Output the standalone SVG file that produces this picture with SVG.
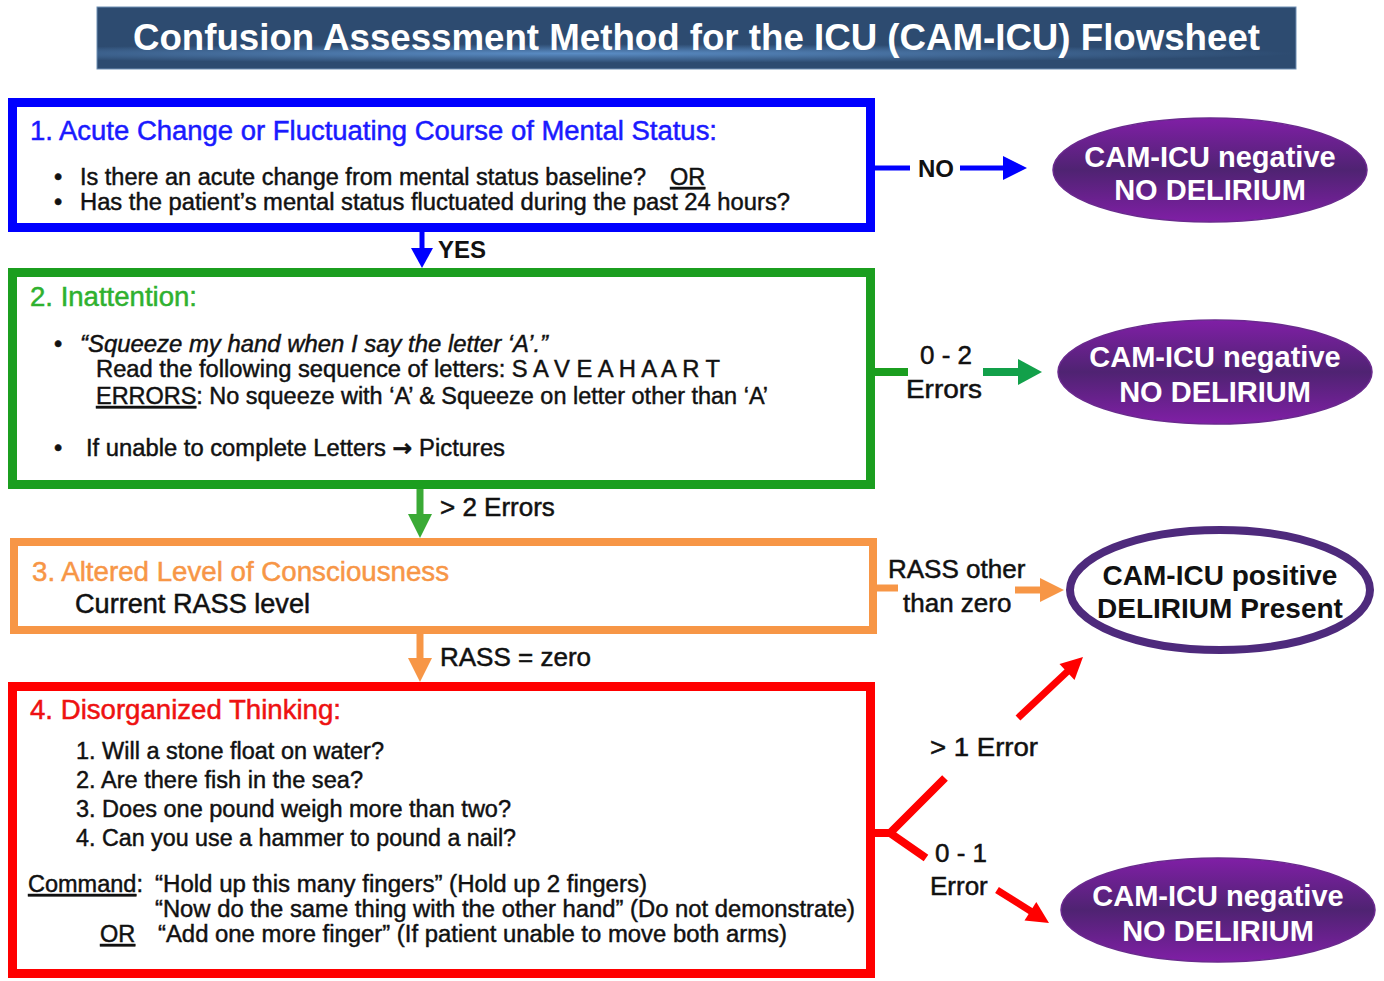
<svg xmlns="http://www.w3.org/2000/svg" width="1384" height="981" viewBox="0 0 1384 981">
<defs>
<radialGradient id="banner" cx="0.4" cy="0.75" r="0.6" gradientTransform="translate(0.4 0.75) scale(1 0.25) translate(-0.4 -0.75)">
<stop offset="0" stop-color="#5a8cc4"/>
<stop offset="1" stop-color="#2d4b70"/>
</radialGradient>
<linearGradient id="purple" x1="0" y1="0" x2="0" y2="1">
<stop offset="0" stop-color="#801fa6"/>
<stop offset="0.5" stop-color="#4f2372"/>
<stop offset="1" stop-color="#801fa6"/>
</linearGradient>
<style>
text{font-family:"Liberation Sans",Arial,sans-serif;}
.title{font-size:36px;font-weight:bold;fill:#fff;}
.head{font-size:27px;stroke-width:0.5px;}
.body{font-size:23.5px;fill:#111;stroke:#111;stroke-width:0.45px;}
.lbl{font-size:26px;fill:#111;stroke:#111;stroke-width:0.5px;}
.lblb{font-size:24px;font-weight:bold;fill:#111;}
.ell{font-size:29px;font-weight:bold;fill:#fff;text-anchor:middle;}
.ellk{font-size:28px;font-weight:bold;fill:#111;text-anchor:middle;}
.u{text-decoration:underline;}
.box{fill:#fff;}
.neg{fill:url(#purple);stroke:#6a2a8e;stroke-width:1.5;}
.arr{font-family:"DejaVu Sans",sans-serif;font-weight:bold;}
</style>
</defs>

<g id="title">
<rect x="97" y="7" width="1199" height="62" fill="url(#banner)" stroke="#6f8fb3" stroke-width="1"/>
<text class="title" x="133" y="50" textLength="1127" lengthAdjust="spacingAndGlyphs">Confusion Assessment Method for the ICU (CAM-ICU) Flowsheet</text>
</g>

<g id="box1">
<rect class="box" x="12.5" y="102.5" width="858" height="125" stroke="#0000ff" stroke-width="9"/>
<text class="head" x="30" y="140" fill="#1a1aff" stroke="#1a1aff" textLength="687" lengthAdjust="spacingAndGlyphs">1. Acute Change or Fluctuating Course of Mental Status:</text>
<text class="body" x="54" y="185">•</text>
<text class="body" x="80" y="185" textLength="566" lengthAdjust="spacingAndGlyphs">Is there an acute change from mental status baseline?</text>
<text class="body u" x="670" y="185">OR</text>
<text class="body" x="54" y="210">•</text>
<text class="body" x="80" y="210" textLength="710" lengthAdjust="spacingAndGlyphs">Has the patient’s mental status fluctuated during the past 24 hours?</text>
</g>

<g id="box2">
<rect class="box" x="12.5" y="272.5" width="858" height="212" stroke="#1b9e1f" stroke-width="9"/>
<text class="head" x="30" y="306" fill="#2fb12f" stroke="#2fb12f" textLength="167" lengthAdjust="spacingAndGlyphs">2. Inattention:</text>
<text class="body" x="54" y="352">•</text>
<text class="body" x="80" y="352" font-style="italic" textLength="468" lengthAdjust="spacingAndGlyphs">“Squeeze my hand when I say the letter ‘A’.”</text>
<text class="body" x="96" y="377" textLength="624" lengthAdjust="spacingAndGlyphs">Read the following sequence of letters: S A V E A H A A R T</text>
<text class="body" x="96" y="404" textLength="672" lengthAdjust="spacingAndGlyphs"><tspan class="u">ERRORS</tspan>: No squeeze with ‘A’ &amp; Squeeze on letter other than ‘A’</text>
<text class="body" x="54" y="456">•</text>
<text class="body" x="86" y="456" textLength="419" lengthAdjust="spacingAndGlyphs">If unable to complete Letters <tspan class="arr">→</tspan> Pictures</text>
</g>

<g id="box3">
<rect class="box" x="14" y="542" width="859" height="88" stroke="#f79646" stroke-width="8"/>
<text class="head" x="32" y="581" fill="#f79646" stroke="#f79646" textLength="417" lengthAdjust="spacingAndGlyphs">3. Altered Level of Consciousness</text>
<text class="head" x="75" y="613" fill="#111" stroke="#111" textLength="235" lengthAdjust="spacingAndGlyphs">Current RASS level</text>
</g>

<g id="box4">
<rect class="box" x="12.5" y="686.5" width="858" height="287" stroke="#ff0000" stroke-width="9"/>
<text class="head" x="30" y="719" fill="#ee1111" stroke="#ee1111" textLength="311" lengthAdjust="spacingAndGlyphs">4. Disorganized Thinking:</text>
<text class="body" x="76" y="759" textLength="308" lengthAdjust="spacingAndGlyphs">1. Will a stone float on water?</text>
<text class="body" x="76" y="788" textLength="287" lengthAdjust="spacingAndGlyphs">2. Are there fish in the sea?</text>
<text class="body" x="76" y="817" textLength="435" lengthAdjust="spacingAndGlyphs">3. Does one pound weigh more than two?</text>
<text class="body" x="76" y="846" textLength="440" lengthAdjust="spacingAndGlyphs">4. Can you use a hammer to pound a nail?</text>
<text class="body" x="28" y="892"><tspan class="u">Command</tspan>:</text>
<text class="body" x="155" y="892" textLength="492" lengthAdjust="spacingAndGlyphs">“Hold up this many fingers” (Hold up 2 fingers)</text>
<text class="body" x="155" y="917" textLength="700" lengthAdjust="spacingAndGlyphs">“Now do the same thing with the other hand” (Do not demonstrate)</text>
<text class="body u" x="100" y="942">OR</text>
<text class="body" x="158" y="942" textLength="629" lengthAdjust="spacingAndGlyphs">“Add one more finger” (If patient unable to move both arms)</text>
</g>

<g id="neg1">
<ellipse class="neg" cx="1210" cy="170" rx="157" ry="52"/>
<text class="ell" x="1210" y="167">CAM-ICU negative</text>
<text class="ell" x="1210" y="200">NO DELIRIUM</text>
</g>

<g id="neg2">
<ellipse class="neg" cx="1215" cy="372" rx="157" ry="52"/>
<text class="ell" x="1215" y="367">CAM-ICU negative</text>
<text class="ell" x="1215" y="402">NO DELIRIUM</text>
</g>

<g id="pos">
<ellipse cx="1220" cy="590" rx="150" ry="60" fill="#fff" stroke="#4e2a7c" stroke-width="8"/>
<text class="ellk" x="1220" y="585">CAM-ICU positive</text>
<text class="ellk" x="1220" y="618">DELIRIUM Present</text>
</g>

<g id="neg3">
<ellipse class="neg" cx="1218" cy="910" rx="157" ry="52"/>
<text class="ell" x="1218" y="906">CAM-ICU negative</text>
<text class="ell" x="1218" y="941">NO DELIRIUM</text>
</g>

<g id="connectors" fill="none" stroke-linecap="butt">
<line x1="422" y1="232" x2="422" y2="250" stroke="#0000ff" stroke-width="5"/>
<polygon points="411,248 433,248 422,268" fill="#0000ff"/>
<text class="lblb" x="438" y="258">YES</text>
<line x1="875" y1="168" x2="910" y2="168" stroke="#0000ff" stroke-width="5"/>
<line x1="960" y1="168" x2="1005" y2="168" stroke="#0000ff" stroke-width="5"/>
<polygon points="1003,156 1003,180 1027,168" fill="#0000ff"/>
<text class="lblb" x="918" y="177">NO</text>
<line x1="420" y1="489" x2="420" y2="516" stroke="#3aaa35" stroke-width="7"/>
<polygon points="408,514 432,514 420,538" fill="#3aaa35"/>
<text class="lbl" x="440" y="516">&gt; 2 Errors</text>
<line x1="875" y1="372" x2="908" y2="372" stroke="#1b9e1f" stroke-width="8"/>
<line x1="983" y1="372" x2="1020" y2="372" stroke="#12a04a" stroke-width="8"/>
<polygon points="1018,359 1018,385 1042,372" fill="#12a04a"/>
<text class="lbl" x="920" y="364">0 - 2</text>
<text class="lbl" x="906" y="398" textLength="76" lengthAdjust="spacingAndGlyphs">Errors</text>
<line x1="420" y1="634" x2="420" y2="660" stroke="#f79646" stroke-width="7"/>
<polygon points="408,658 432,658 420,682" fill="#f79646"/>
<text class="lbl" x="440" y="666">RASS = zero</text>
<line x1="877" y1="588" x2="898" y2="588" stroke="#f79646" stroke-width="7"/>
<line x1="1015" y1="590" x2="1042" y2="590" stroke="#f79646" stroke-width="7"/>
<polygon points="1040,578 1040,602 1064,590" fill="#f79646"/>
<text class="lbl" x="888" y="578">RASS other</text>
<text class="lbl" x="903" y="612">than zero</text>
<path d="M875,833 H890 L945,778 M890,833 L926,858" stroke="#ff0000" stroke-width="8"/>
<line x1="1018" y1="718" x2="1069" y2="670" stroke="#ff0000" stroke-width="7"/>
<polygon points="1083,657 1074.5,680 1059.5,664" fill="#ff0000"/>
<line x1="997" y1="890" x2="1032" y2="912" stroke="#ff0000" stroke-width="7"/>
<polygon points="1049,923 1024.5,920.5 1036.3,901.9" fill="#ff0000"/>
<text class="lbl" x="930" y="756" textLength="108" lengthAdjust="spacingAndGlyphs">&gt; 1 Error</text>
<text class="lbl" x="935" y="862">0 - 1</text>
<text class="lbl" x="930" y="895">Error</text>
</g>
</svg>
